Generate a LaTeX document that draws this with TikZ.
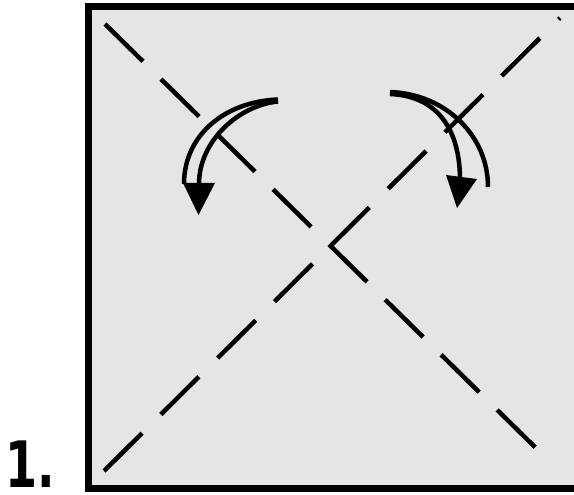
\documentclass[tikz,border=0pt]{standalone}
\usepackage{fontspec}
\newfontfamily\labelfont{DejaVu Sans}
\definecolor{sqgray}{RGB}{229,229,229}
\tikzset{
  foldline/.style={line width=4.5pt, line cap=butt},
  arrowline/.style={line width=4.5pt, line cap=butt},
  arrowhead/.style={fill=black, draw=none},
  sheet/.style={draw=black, line width=6.5pt, fill=sqgray}
}
\begin{document}
\begin{tikzpicture}[x=1pt, y=-1pt]
\useasboundingbox (0,0) rectangle (574,495);
\clip (0,0) rectangle (574,495);
% paper
\draw[sheet] (88.5,6.5) rectangle (578,488.5);
% fold lines
\coordinate (tl) at (105,24);
\coordinate (br) at (541,453);
\coordinate (bl) at (104,471);
\coordinate (tr) at (560,18);
\draw[foldline, dash pattern=on 53.3pt off 25.3pt] (tl) -- (br);
\draw[foldline, dash pattern=on 53.6pt off 26.5pt] (bl) -- (tr);
% left arrow
\draw[arrowline] (278,99.5) .. controls (225,101.5) and (184,135) .. (184,184);
\draw[arrowline] (278,101.5) .. controls (240,105) and (199,140) .. (199,184);
\fill[arrowhead] (183,183) -- (215,183) -- (198.5,215) -- cycle;
% right arrow
\draw[arrowline] (390,92) .. controls (445,94) and (488,135) .. (488,187);
\draw[arrowline] (390,94) .. controls (438,96) and (460,130) .. (460,180);
\fill[arrowhead] (446,175) -- (477,179) -- (457,208) -- cycle;
% step number
\node[anchor=base west, inner sep=0pt, font=\labelfont\bfseries\fontsize{64}{64}\selectfont] (num) at (5,487) {\scalebox{0.72}[1]{1.}};
\end{tikzpicture}
\end{document}
